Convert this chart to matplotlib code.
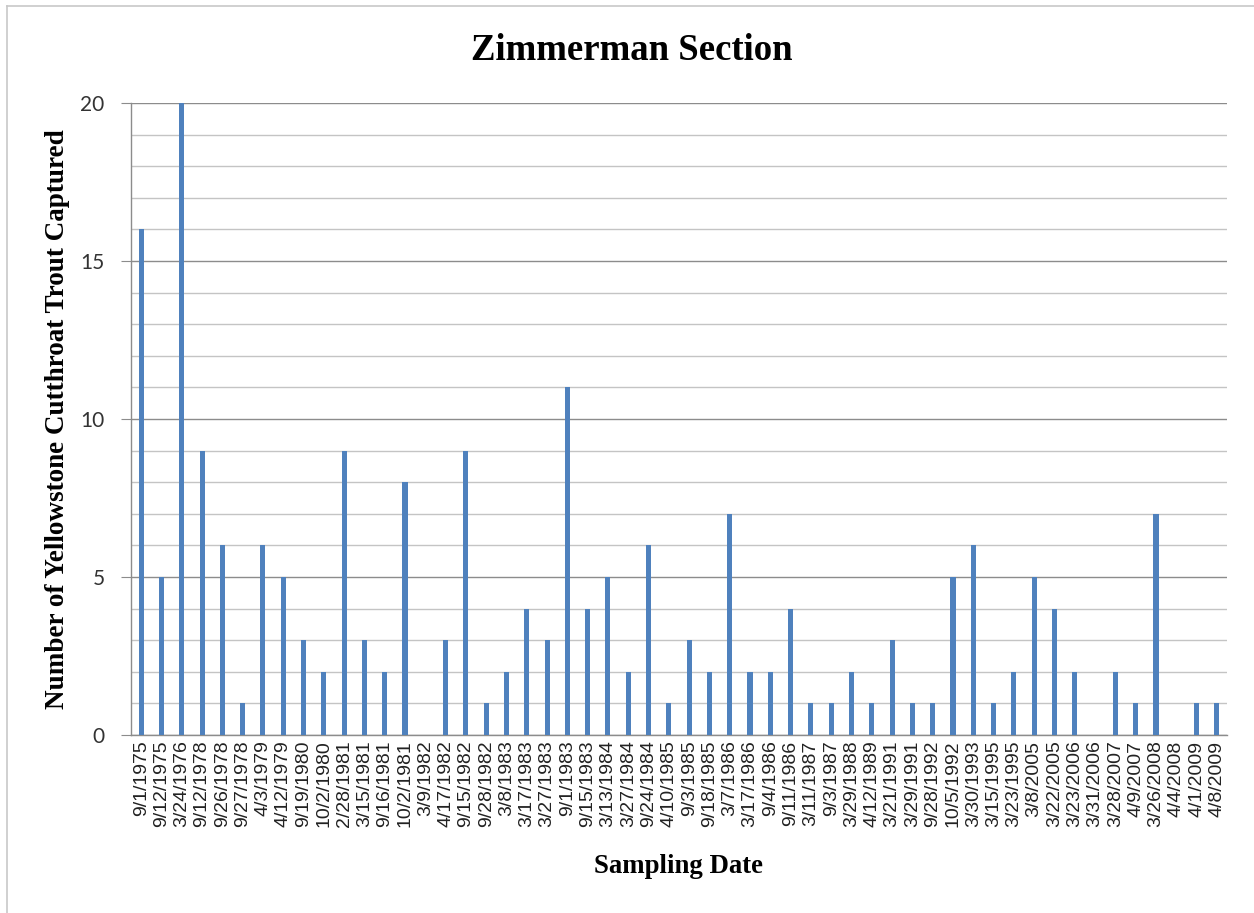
import matplotlib.pyplot as plt
from matplotlib.ticker import MultipleLocator
from matplotlib.lines import Line2D

dates = [
    "9/1/1975", "9/12/1975", "3/24/1976", "9/12/1978", "9/26/1978", "9/27/1978",
    "4/3/1979", "4/12/1979", "9/19/1980", "10/2/1980", "2/28/1981", "3/15/1981",
    "9/16/1981", "10/2/1981", "3/9/1982", "4/17/1982", "9/15/1982", "9/28/1982",
    "3/8/1983", "3/17/1983", "3/27/1983", "9/1/1983", "9/15/1983", "3/13/1984",
    "3/27/1984", "9/24/1984", "4/10/1985", "9/3/1985", "9/18/1985", "3/7/1986",
    "3/17/1986", "9/4/1986", "9/11/1986", "3/11/1987", "9/3/1987", "3/29/1988",
    "4/12/1989", "3/21/1991", "3/29/1991", "9/28/1992", "10/5/1992", "3/30/1993",
    "3/15/1995", "3/23/1995", "3/8/2005", "3/22/2005", "3/23/2006", "3/31/2006",
    "3/28/2007", "4/9/2007", "3/26/2008", "4/4/2008", "4/1/2009", "4/8/2009",
]
captured = [
    16, 5, 20, 9, 6, 1,
    6, 5, 3, 2, 9, 3,
    2, 8, 0, 3, 9, 1,
    2, 4, 3, 11, 4, 5,
    2, 6, 1, 3, 2, 7,
    2, 2, 4, 1, 1, 2,
    1, 3, 1, 1, 5, 6,
    1, 2, 5, 4, 2, 0,
    2, 1, 7, 0, 1, 1,
]

W, H = 1254, 913
fig = plt.figure(figsize=(W / 100, H / 100), dpi=100)
fig.patch.set_facecolor("white")

# chart border (left and top visible)
fig.add_artist(Line2D([7 / W, 7 / W], [0, 1 - 6 / H], color="#c8c8c8", lw=1.2))
fig.add_artist(Line2D([7 / W, 1], [1 - 6 / H, 1 - 6 / H], color="#c8c8c8", lw=1.2))

ax = fig.add_axes([131 / W, 1 - 735 / H, (1227 - 131) / W, (735 - 103) / H])

x = list(range(len(dates)))
ax.bar(x, captured, width=0.25, color="#4f81bd", zorder=3)

ax.set_xlim(-0.5, len(dates) - 0.5)
ax.set_ylim(0, 20)
ax.yaxis.set_major_locator(MultipleLocator(5))
ax.yaxis.set_minor_locator(MultipleLocator(1))
ax.grid(axis="y", which="minor", color="#c4c4c4", lw=1.0, zorder=1)
ax.grid(axis="y", which="major", color="#8c8c8c", lw=1.0, zorder=2)

for s in ["top", "right"]:
    ax.spines[s].set_visible(False)
for s in ["left", "bottom"]:
    ax.spines[s].set_color("#8c8c8c")
    ax.spines[s].set_linewidth(1.0)

ax.set_xticks(x)
ax.set_xticklabels(dates, rotation=90, fontsize=14, family="Liberation Sans",
                   color="#222222")
ax.tick_params(axis="x", length=0, pad=4)
ax.tick_params(axis="y", which="major", length=7, color="#8c8c8c", pad=12,
               labelsize=15, labelcolor="#333333")
ax.tick_params(axis="y", which="minor", length=0)
for lab in ax.get_yticklabels():
    lab.set_family("Lato")

fig.text(632 / W, 1 - 60 / H, "Zimmerman Section", ha="center", va="baseline",
         fontsize=26.5, fontweight="bold", family="Liberation Serif")
fig.text(679 / W, 1 - 873 / H, "Sampling Date", ha="center", va="baseline",
         fontsize=19.3, fontweight="bold", family="Liberation Serif")
fig.text(58 / W, 1 - 419 / H, "Number of Yellowstone Cutthroat Trout Captured",
         ha="center", va="center", rotation=90,
         fontsize=19.5, fontweight="bold", family="Liberation Serif")

fig.savefig("out.png", dpi=100, facecolor="white")
